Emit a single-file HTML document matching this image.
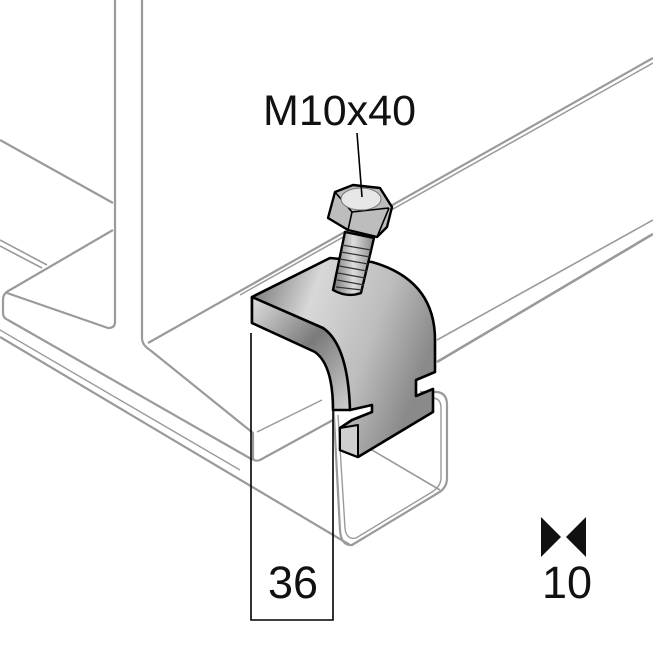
<!DOCTYPE html>
<html><head><meta charset="utf-8"><style>
html,body{margin:0;padding:0;background:#fff}
svg{display:block}
text{font-family:"Liberation Sans",sans-serif;fill:#111}
</style></head><body>
<svg width="653" height="653" viewBox="0 0 653 653" xmlns="http://www.w3.org/2000/svg">
<defs>
<linearGradient id="g1" x1="0" y1="0" x2="1" y2="0.4">
<stop offset="0" stop-color="#6a6a6a"/><stop offset="0.35" stop-color="#d8d8d8"/><stop offset="0.7" stop-color="#bdbdbd"/><stop offset="1" stop-color="#8a8a8a"/></linearGradient>
<linearGradient id="g2" x1="0" y1="0" x2="1" y2="1">
<stop offset="0" stop-color="#e0e0e0"/><stop offset="0.5" stop-color="#7a7a7a"/><stop offset="1" stop-color="#d0d0d0"/></linearGradient>
<linearGradient id="g3" x1="0" y1="0" x2="1" y2="0">
<stop offset="0" stop-color="#777"/><stop offset="0.5" stop-color="#ddd"/><stop offset="1" stop-color="#888"/></linearGradient>
</defs>
<g fill="none" stroke="#9a9a9a" stroke-width="2.2" stroke-linejoin="round">
<!-- web -->
<path d="M115 0 V322 Q115 328 108 328 L7 293"/>
<path d="M142 0 V338 Q142 345 150 350 L253 433 V458 Q254 462 260 460 L333 420"/>
<path d="M148 343 L653 58"/>
<path d="M240 295 L653 63" stroke-width="1.5"/>
<!-- left flange -->
<path d="M0 140 L113 203"/>
<path d="M0 240 L47 265" stroke-width="1.6"/>
<path d="M0 246 L42 268" stroke-width="1.6"/>
<path d="M113 230 L10 290 Q3 293 3 300 V313 Q3 318 8 320 L253 460"/>
<path d="M0 337 L350 545"/>
<path d="M0 330 L240 470" stroke-width="1.4"/>
<!-- right flange -->
<path d="M437 340 L653 220" stroke-width="1.6"/>
<path d="M437 362 L653 234" stroke-width="2.6"/>
<path d="M257 432 L322 400" stroke-width="1.5"/>
<!-- channel -->
<path d="M333 398 L340 530 Q341 546 352 545 L438 493 Q447 488 447 478 V405 Q447 393 437 392 L420 392"/>
<path d="M338 415 L345 528 Q346 540 356 538 L432 492 Q441 486 441 478 V408 Q441 398 432 398" stroke-width="1.4"/>
<path d="M355 440 L440 490" stroke-width="1.6"/>
</g>
<!-- clamp -->
<g stroke="#000" stroke-width="2.6" stroke-linejoin="round">
<path d="M252 297 L330 258 L372 262 Q435 280 435 340 V372 L416 380 V396 L433 389 V412 L358 457 L340 450 V428 L352 420 L372 412 V405 L350 410 Q345 365 320 342 L252 323 Z" fill="url(#g1)"/>
<path d="M252 297 L323 328 Q348 345 350 410 L333 410 Q333 365 315 352 L252 323 Z" fill="url(#g2)"/>
<path d="M340 428 L358 425 L358 457 L340 450 Z" fill="#cfcfcf" stroke-width="2"/>
</g>
<!-- bolt -->
<g stroke="#000" stroke-linejoin="round">
<path d="M345 232 L374 238 L361 293 Q347 298 333 290 Z" fill="url(#g3)" stroke-width="2.4"/>
<g stroke="#333" stroke-width="1.2">
<path d="M342 245 L371 250 M341 252 L370 257 M340 259 L368 264 M339 266 L367 271 M338 273 L365 278 M337 280 L364 285 M336 287 L362 290"/>
</g>
<path d="M328 218 L335 192 L353 185 L380 188 L392 207 L387 227 L377 237 L348 230 Z" fill="#bdbdbd" stroke-width="2.4"/>
<path d="M328 218 L348 230 L352 212 L335 192 M352 212 L389 208 M348 230 L377 237 L389 208" fill="none" stroke-width="1.6"/>
<ellipse cx="361" cy="199" rx="20" ry="11" fill="#e6e6e6" stroke="#777" stroke-width="1"/>
</g>
<!-- leader & dims -->
<g stroke="#000" stroke-width="1.6" fill="none">
<path d="M357 133 L362 197"/>
<path d="M251 333 V620 H333 V405"/>
</g>
<text x="263" y="125" font-size="43">M10x40</text>
<text x="268" y="598" font-size="45">36</text>
<text x="542" y="598" font-size="45">10</text>
<path d="M541 517 L541 557 L561 537 Z M586 517 L586 557 L566 537 Z" fill="#111"/>
</svg>
</body></html>
